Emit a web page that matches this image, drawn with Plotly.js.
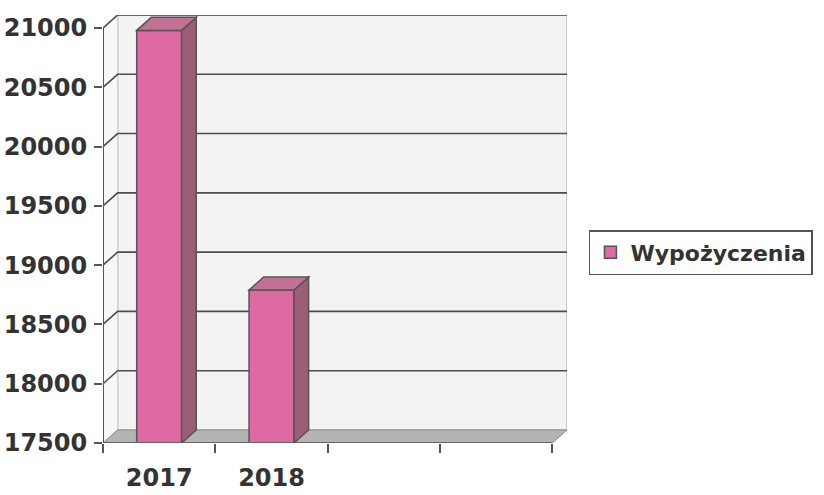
<!DOCTYPE html>
<html>
<head>
<meta charset="utf-8">
<script src="https://cdn.plot.ly/plotly-3.0.1.min.js"></script>
<style>html,body{margin:0;padding:0;background:#fff;}#chart{width:824px;height:495px;}</style>
</head>
<body>
<div id="chart"></div>
<script>
// ---- data ----
var categories = ['2017', '2018', '', ''];
var seriesName = 'Wypożyczenia';
var values = [20980, 18790, null, null];
var yTicks = [17500, 18000, 18500, 19000, 19500, 20000, 20500, 21000];

// ---- style constants ----
var yMin = 17500, yMax = 21000;
var DX = 0.13;   // depth offset in x units
var DY = 110;    // depth offset in y units
var BW = 0.40;   // bar width
var xs = categories.map(function (c, i) { return i; });

var shapes = [];
// back wall
shapes.push({type: 'rect', xref: 'x', yref: 'y', layer: 'below',
  x0: -0.5 + DX, x1: xs.length - 0.5 + DX, y0: yMin + DY, y1: yMax + DY,
  fillcolor: '#f3f3f3', line: {color: '#bdbdbd', width: 1.5}});
// left side wall
shapes.push({type: 'path', xref: 'x', yref: 'y', layer: 'below',
  path: 'M' + (-0.5) + ',' + yMin + ' L' + (-0.5 + DX) + ',' + (yMin + DY) +
        ' L' + (-0.5 + DX) + ',' + (yMax + DY) + ' L' + (-0.5) + ',' + yMax + ' Z',
  fillcolor: '#f8f8f8', line: {color: '#cfcfcf', width: 1}});
// gridlines (back wall + slanted on side wall)
yTicks.forEach(function (v) {
  if (v === yMin) return;
  shapes.push({type: 'path', xref: 'x', yref: 'y', layer: 'below',
    path: 'M' + (-0.5) + ',' + v + ' L' + (-0.5 + DX) + ',' + (v + DY) +
          ' L' + (xs.length - 0.5 + DX) + ',' + (v + DY),
    line: {color: '#4d4d4d', width: 1.6}});
});
// floor
shapes.push({type: 'path', xref: 'x', yref: 'y', layer: 'below',
  path: 'M' + (-0.5) + ',' + yMin + ' L' + (xs.length - 0.5) + ',' + yMin +
        ' L' + (xs.length - 0.5 + DX) + ',' + (yMin + DY) + ' L' + (-0.5 + DX) + ',' + (yMin + DY) + ' Z',
  fillcolor: '#b4b4b4', line: {color: '#8a8a8a', width: 1}});
// y axis line (front)
shapes.push({type: 'line', xref: 'x', yref: 'y', layer: 'above',
  x0: -0.5, x1: -0.5, y0: yMin, y1: yMax, line: {color: '#555', width: 2}});
// front floor edge
shapes.push({type: 'line', xref: 'x', yref: 'y', layer: 'above',
  x0: -0.5, x1: xs.length - 0.5, y0: yMin, y1: yMin, line: {color: '#666', width: 2}});
// 3D faces of bars
values.forEach(function (v, i) {
  if (v === null) return;
  var l = xs[i] - BW / 2, r = xs[i] + BW / 2;
  shapes.push({type: 'path', xref: 'x', yref: 'y', layer: 'above',
    path: 'M' + r + ',' + yMin + ' L' + (r + DX) + ',' + (yMin + DY) + ' L' + (r + DX) + ',' + (v + DY) +
          ' L' + r + ',' + v + ' Z',
    fillcolor: '#9c5d78', line: {color: '#555', width: 1.5}});
  shapes.push({type: 'path', xref: 'x', yref: 'y', layer: 'above',
    path: 'M' + l + ',' + v + ' L' + (l + DX) + ',' + (v + DY) + ' L' + (r + DX) + ',' + (v + DY) +
          ' L' + r + ',' + v + ' Z',
    fillcolor: '#c27195', line: {color: '#555', width: 1.5}});
});

var trace = {
  type: 'bar', x: xs, y: values, name: seriesName, width: BW,
  marker: {color: '#de6aa3', line: {color: '#555', width: 1.5}},
  showlegend: true, hoverinfo: 'skip'
};
// invisible trace for boundary ticks on xaxis2
var tickTrace = {type: 'scatter', x: [-0.5], y: [yMin], xaxis: 'x2', mode: 'markers',
  marker: {opacity: 0}, showlegend: false, hoverinfo: 'skip'};

var layout = {
  width: 824, height: 495,
  margin: {l: 103, r: 256, t: 15, b: 52},
  paper_bgcolor: '#ffffff', plot_bgcolor: '#ffffff',
  font: {family: 'DejaVu Sans', color: '#333333'},
  showlegend: true,
  legend: {x: 1.045, xanchor: 'left', y: 0.445, yanchor: 'middle',
    bordercolor: '#555', borderwidth: 1.5, bgcolor: '#ffffff',
    font: {family: 'DejaVu Sans', size: 22, color: '#333', weight: 'bold'}},
  xaxis: {range: [-0.5, xs.length - 0.5 + DX], tickmode: 'array', tickvals: xs, ticktext: categories,
    showgrid: false, zeroline: false, showline: false, ticks: '',
    tickfont: {family: 'DejaVu Sans', size: 24, color: '#333', weight: 'bold'}, ticklabelstandoff: 18,
    fixedrange: true},
  xaxis2: {overlaying: 'x', matches: 'x', side: 'bottom', showticklabels: false, showgrid: false,
    zeroline: false, showline: false, tickmode: 'array',
    tickvals: xs.map(function (x) { return x - 0.5; }).concat([xs.length - 0.5]),
    ticks: 'outside', ticklen: 9, tickwidth: 2, tickcolor: '#555'},
  yaxis: {range: [yMin, yMax + DY], tickmode: 'array', tickvals: yTicks,
    ticktext: yTicks.map(String), showgrid: false, zeroline: false, showline: false,
    ticks: 'outside', ticklen: 8, tickwidth: 2, tickcolor: '#555', ticklabelstandoff: 2,
    tickfont: {family: 'DejaVu Sans', size: 24, color: '#333', weight: 'bold'}, fixedrange: true},
  shapes: shapes,
  bargap: 0
};

Plotly.newPlot('chart', [trace, tickTrace], layout, {staticPlot: true, displayModeBar: false});
</script>
</body>
</html>
